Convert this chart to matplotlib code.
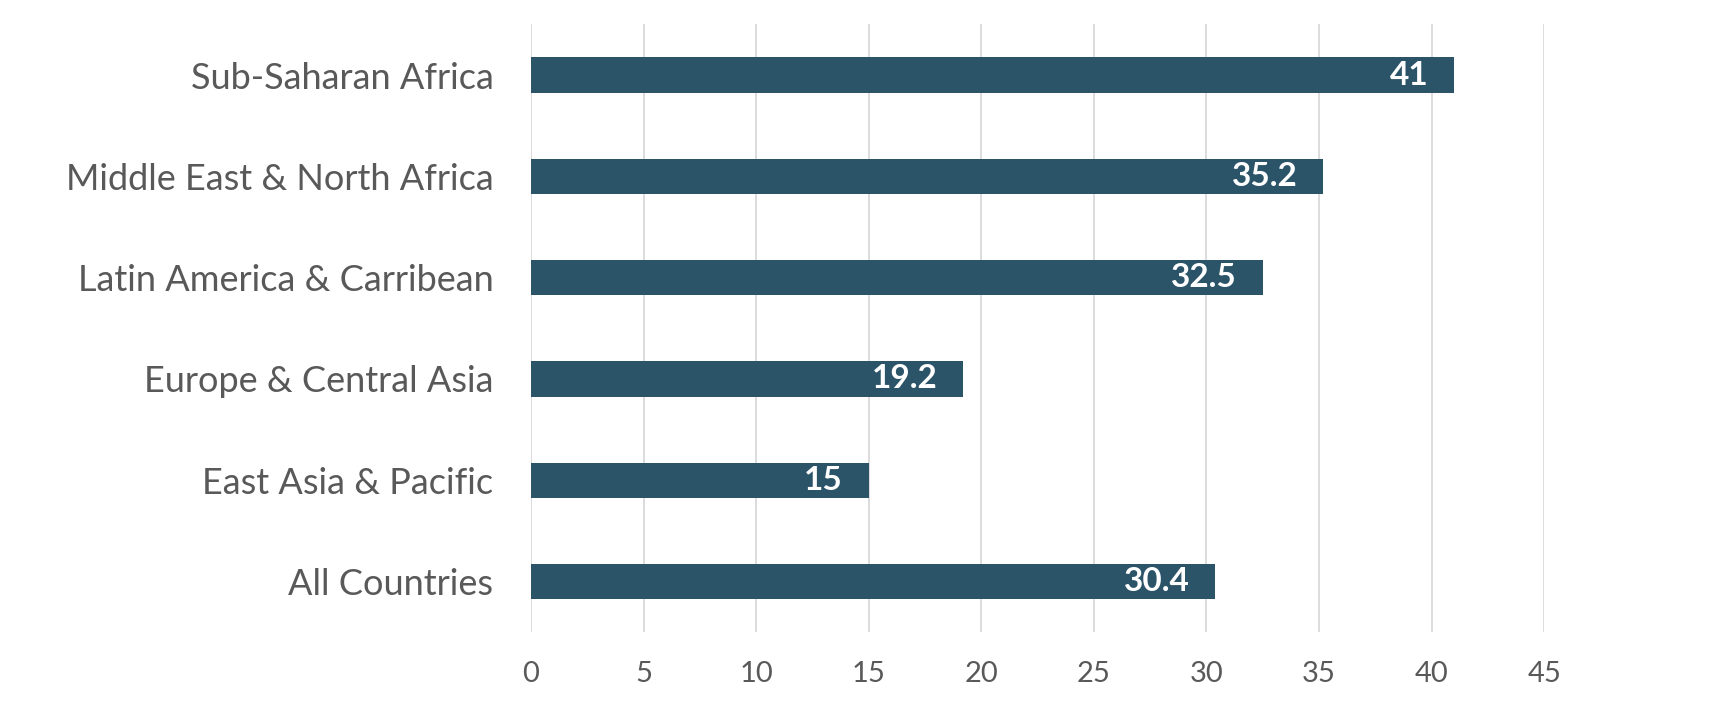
import matplotlib.pyplot as plt

# regions, bottom to top as drawn
regions = ["All Countries", "East Asia & Pacific", "Europe & Central Asia",
           "Latin America & Carribean", "Middle East & North Africa", "Sub-Saharan Africa"]
values = [30.4, 15, 19.2, 32.5, 35.2, 41]
value_labels = ["30.4", "15", "19.2", "32.5", "35.2", "41"]
x_ticks = [0, 5, 10, 15, 20, 25, 30, 35, 40, 45]

plt.rcParams['font.family'] = ['Lato', 'DejaVu Sans']

fig = plt.figure(figsize=(17.1, 7.16), dpi=100)
ax = fig.add_axes([0.3105, 0.117, 0.5925, 0.849])

bar_color = "#2C5468"
text_color = "#595959"

ax.barh(range(len(regions)), values, height=0.35, color=bar_color, zorder=3)

# value labels inside the bar end
for i in range(len(values)):
    ax.text(values[i] - 1.15, i, value_labels[i], ha="right", va="center",
            color="white", fontsize=24, fontweight="bold", zorder=4)

ax.set_xlim(0, 45)
ax.set_ylim(-0.5, len(regions) - 0.5)
ax.set_xticks(x_ticks)
ax.set_yticks(range(len(regions)))
ax.set_yticklabels(regions)

ax.grid(axis="x", color="#D9D9D9", linewidth=1.3, zorder=0)
for s in ax.spines.values():
    s.set_visible(False)
ax.tick_params(axis="y", length=0, pad=27, labelsize=26, labelcolor=text_color)
ax.tick_params(axis="x", length=0, pad=21, labelsize=21, labelcolor=text_color)

fig.savefig("out.png", dpi=100, facecolor="white")
